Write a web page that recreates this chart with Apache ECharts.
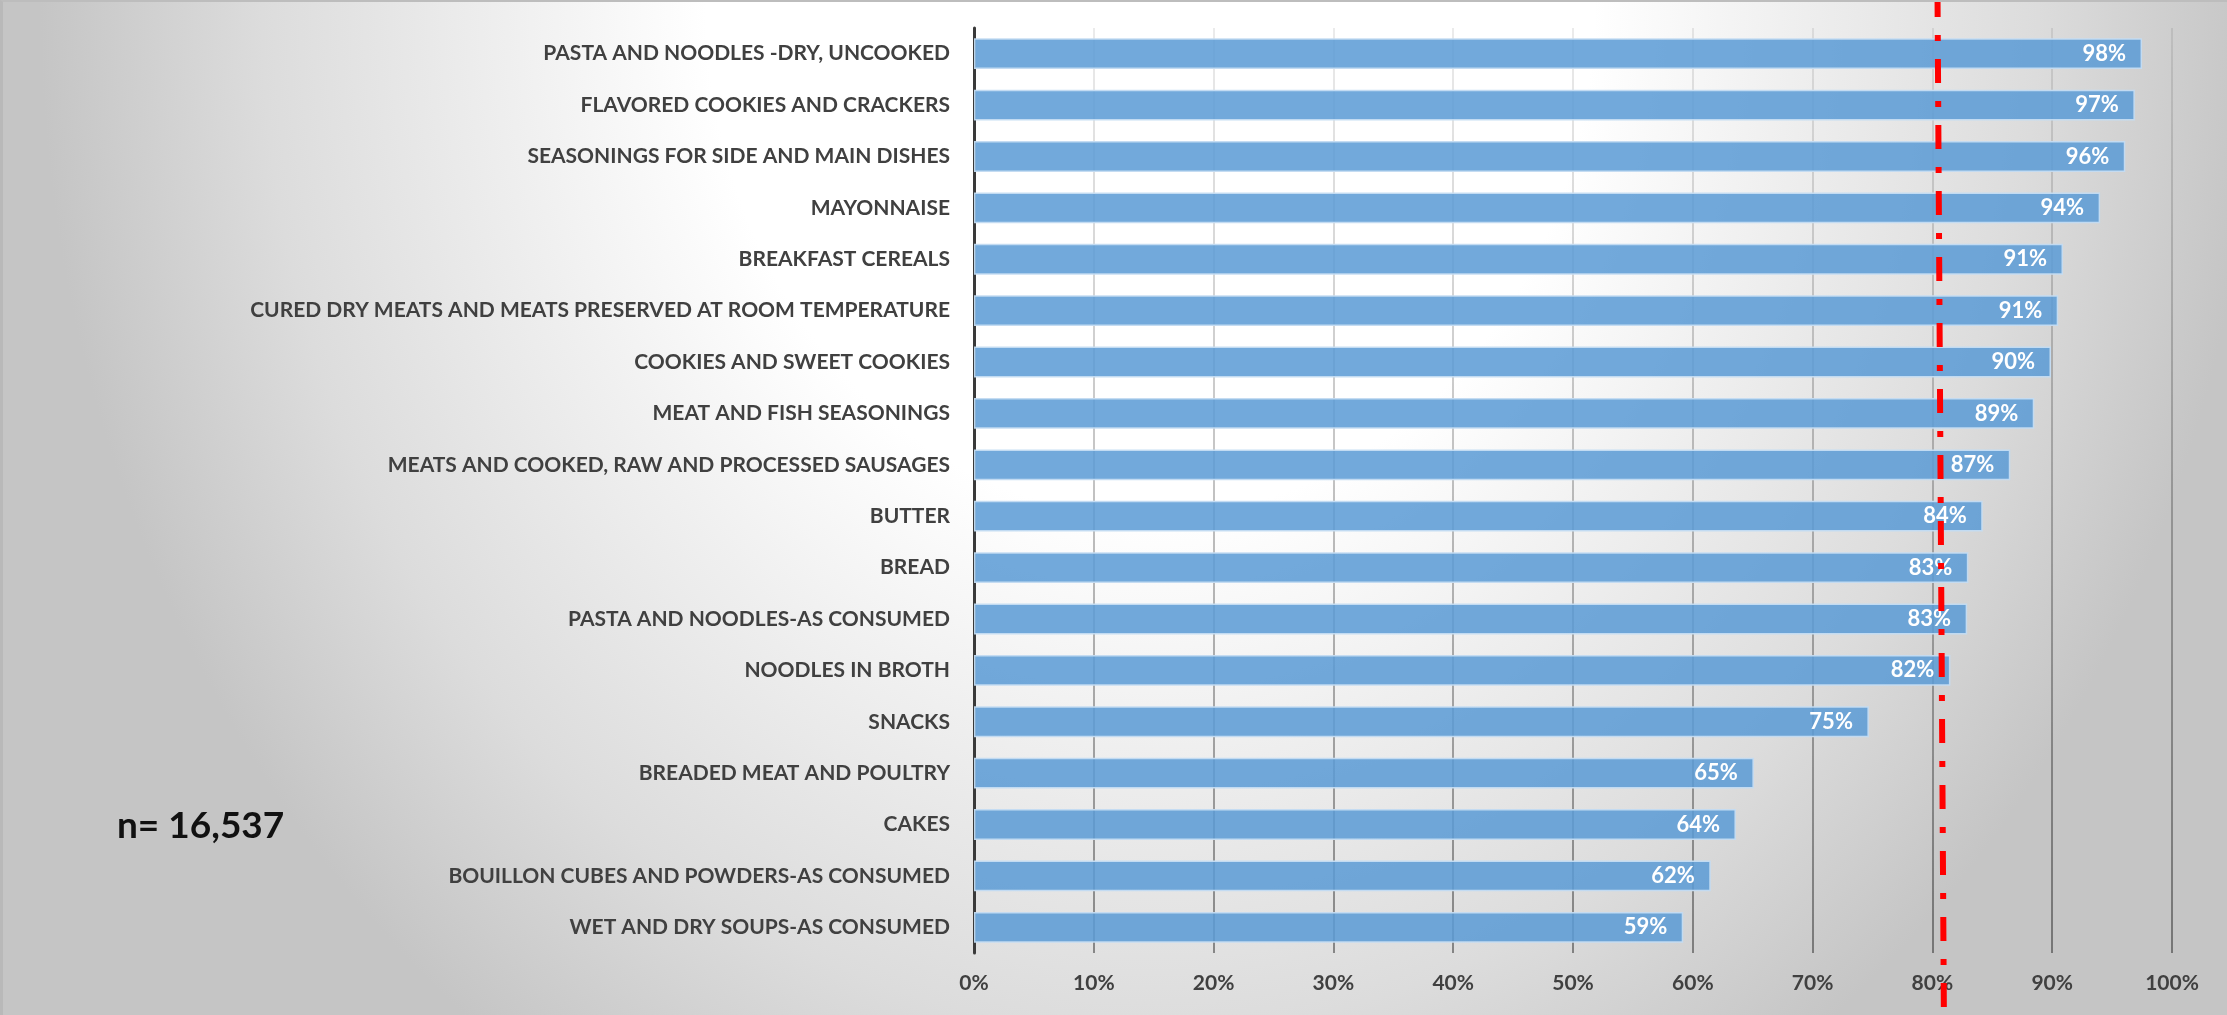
<!DOCTYPE html>
<html>
<head>
<meta charset="utf-8">
<script src="https://cdn.jsdelivr.net/npm/echarts@6/dist/echarts.min.js"></script>
<style>
  html, body { margin: 0; padding: 0; }
  body {
    width: 2227px; height: 1015px; overflow: hidden;
    background:
      radial-gradient(ellipse 1110px 1290px at 1150px 0px,
        #ffffff 0%, #ffffff 40%, #efefef 58%, #dcdcdc 80%, #c5c5c5 100%);
  }
  #frame {
    position: absolute; left: 0; top: 0; width: 2227px; height: 1015px;
    box-sizing: border-box; border-top: 2px solid #bdbdbd; border-left: 3px solid #b9b9b9;
    pointer-events: none; z-index: 2;
  }
  #chart { position: absolute; left: 0; top: 0; width: 2227px; height: 1015px; }
</style>
</head>
<body>
<div id="chart"></div>
<div id="frame"></div>
<script>
// Share of products per category (percent), top to bottom
const categories = [
  'PASTA AND NOODLES -DRY, UNCOOKED',
  'FLAVORED COOKIES AND CRACKERS',
  'SEASONINGS FOR SIDE AND MAIN DISHES',
  'MAYONNAISE',
  'BREAKFAST CEREALS',
  'CURED DRY MEATS AND MEATS PRESERVED AT ROOM TEMPERATURE',
  'COOKIES AND SWEET COOKIES',
  'MEAT AND FISH SEASONINGS',
  'MEATS AND COOKED, RAW AND PROCESSED SAUSAGES',
  'BUTTER',
  'BREAD',
  'PASTA AND NOODLES-AS CONSUMED',
  'NOODLES IN BROTH',
  'SNACKS',
  'BREADED MEAT AND POULTRY',
  'CAKES',
  'BOUILLON CUBES AND POWDERS-AS CONSUMED',
  'WET AND DRY SOUPS-AS CONSUMED'
];
const shares = [97.5, 96.9, 96.1, 94.0, 90.9, 90.5, 89.9, 88.5, 86.5, 84.2, 83.0, 82.9, 81.5, 74.7, 65.1, 63.6, 61.5, 59.2];

// Axis ticks (percent)
const axisMin = 0;
const axisMax = 100;
const axisStep = 10;

// Reference line: [share, vertical position 0..1] from top to bottom of the page
const referenceLine = [[80.43, 1], [80.96, 0]];

const sampleSizeText = 'n= 16,537';

const textColor = '#404040';
const fontFamily = 'Lato, "Open Sans", sans-serif';

const chart = echarts.init(document.getElementById('chart'), null, { renderer: 'canvas' });

chart.setOption({
  backgroundColor: 'transparent',
  animation: false,
  title: {
    text: sampleSizeText,
    left: 112,
    top: 800,
    textStyle: { color: '#111111', fontFamily, fontWeight: 'bold', fontSize: 37, lineHeight: 43 }
  },
  grid: [
    { left: 974, right: 55, top: 28, bottom: 62, containLabel: false },
    { left: 974, right: 55, top: 0, bottom: 0, containLabel: false }
  ],
  xAxis: [
    {
      type: 'value', gridIndex: 0,
      min: axisMin, max: axisMax, interval: axisStep,
      axisLine: { show: false },
      axisTick: { show: false },
      axisLabel: {
        formatter: '{value}%', color: textColor, fontFamily, fontWeight: 'bold', fontSize: 21, margin: 20
      },
      splitLine: {
        show: true,
        lineStyle: {
          width: 2,
          color: new echarts.graphic.LinearGradient(0, 28, 0, 953, [
            { offset: 0, color: 'rgba(0,0,0,0.08)' },
            { offset: 1, color: 'rgba(0,0,0,0.4)' }
          ], true)
        }
      }
    },
    {
      type: 'value', gridIndex: 1, min: axisMin, max: axisMax, show: false
    }
  ],
  yAxis: [
    {
      type: 'category', gridIndex: 0, data: categories, inverse: true,
      axisLine: { show: true, lineStyle: { color: '#3a3a3a', width: 3 } },
      axisTick: { show: false },
      axisLabel: { color: textColor, fontFamily, fontWeight: 'bold', fontSize: 21, margin: 24 },
      splitLine: { show: false }
    },
    {
      type: 'value', gridIndex: 1, min: 0, max: 1, show: false
    }
  ],
  series: [
    {
      type: 'bar',
      xAxisIndex: 0, yAxisIndex: 0,
      data: shares,
      barCategoryGap: '40%',
      itemStyle: {
        color: 'rgba(91,155,213,0.86)',
        borderColor: 'rgba(196,220,242,0.95)',
        borderWidth: 1.5
      },
      label: {
        show: true,
        position: 'insideRight',
        distance: 16,
        color: '#ffffff',
        fontFamily, fontWeight: 'bold', fontSize: 22,
        formatter: p => Math.round(p.value) + '%'
      },
      z: 2
    },
    {
      type: 'line',
      xAxisIndex: 1, yAxisIndex: 1,
      data: referenceLine,
      symbol: 'none',
      silent: true,
      lineStyle: { color: '#ff0000', width: 6, type: [24, 18, 6, 18], dashOffset: 7, cap: 'butt' },
      z: 10
    }
  ]
});
</script>
</body>
</html>
